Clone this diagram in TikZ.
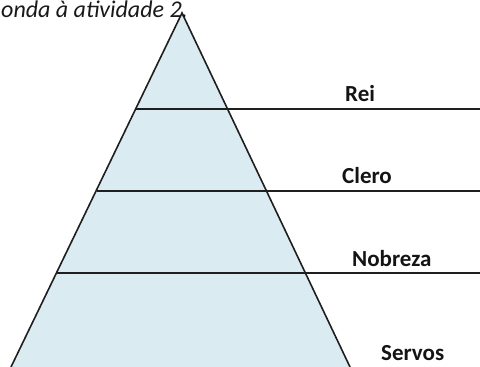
\documentclass[tikz,border=0pt]{standalone}
\usepackage{fontspec}
\setmainfont{Carlito}
\begin{document}
\begin{tikzpicture}[x=1pt,y=-1pt,
  edge/.style={draw=black!88, line width=1.6pt},
  lbl/.style={font=\bfseries\fontsize{23}{26}\selectfont, text=black!92, inner sep=0pt, anchor=base west}]
\useasboundingbox (0,0) rectangle (480,367);
\clip (0,0) rectangle (480,367);
\coordinate (apex) at (182,13);
\coordinate (bl) at (11,367);
\coordinate (br) at (350,367);
\fill[fill={rgb,255:red,218;green,236;blue,241}] (apex) -- (bl) -- (br) -- cycle;
\draw[edge] (bl) -- (apex) -- (br);
% levels
\coordinate (l1) at (136,109); \coordinate (r1) at (480,109);
\coordinate (l2) at (97,191);  \coordinate (r2) at (480,191);
\coordinate (l3) at (57,273);  \coordinate (r3) at (480,273);
\draw[edge] (l1) -- (r1);
\draw[edge] (l2) -- (r2);
\draw[edge] (l3) -- (r3);
\node[lbl] (rei) at (345,101) {Rei};
\node[lbl] (clero) at (342,183) {Clero};
\node[lbl] (nob) at (352,266) {Nobreza};
\node[lbl] (serv) at (381,360) {Servos};
\node[font=\itshape\fontsize{24}{28}\selectfont, inner sep=0pt, anchor=base west, text=black!90] (title) at (1,17) {onda à atividade 2.};
\end{tikzpicture}
\end{document}
